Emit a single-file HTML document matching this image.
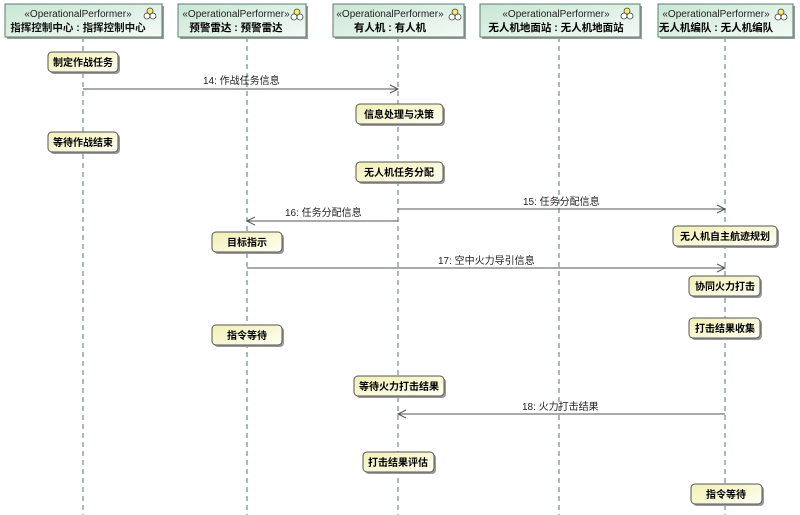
<!DOCTYPE html>
<html><head><meta charset="utf-8"><style>
html,body{margin:0;padding:0;background:#fff;width:800px;height:515px;overflow:hidden}
text{font-family:"Liberation Sans","Noto Sans CJK SC",sans-serif}
</style></head><body>
<svg width="800" height="515" viewBox="0 0 800 515" xmlns="http://www.w3.org/2000/svg">
<defs>
<linearGradient id="hg" x1="0" y1="0" x2="1" y2="1"><stop offset="0" stop-color="#c9e6d3"/><stop offset="1" stop-color="#f4faf6"/></linearGradient>
<linearGradient id="ag" x1="0" y1="0" x2="1" y2="1"><stop offset="0" stop-color="#f2efb4"/><stop offset="1" stop-color="#fffff4"/></linearGradient>
<g id="ico"><circle cx="0" cy="-3" r="3" fill="#f3ec6a" stroke="#444" stroke-width="0.8"/><circle cx="-3" cy="2" r="3" fill="#fff" stroke="#444" stroke-width="0.8"/><circle cx="3" cy="2" r="3" fill="#fff" stroke="#444" stroke-width="0.8"/></g>
</defs>
<g stroke="#4f7a6c" stroke-width="1" stroke-dasharray="5,4">
<line x1="83" y1="37" x2="83" y2="515"/><line x1="247" y1="37" x2="247" y2="515"/><line x1="398" y1="37" x2="398" y2="515"/><line x1="559" y1="37" x2="559" y2="515"/><line x1="725" y1="37" x2="725" y2="515"/>
</g>
<g font-size="10" text-anchor="middle">
<rect x="7" y="6" width="157" height="33" fill="#9a9a9a"/><rect x="5" y="4" width="157" height="33" fill="url(#hg)" stroke="#5c7e6e"/>
<text x="78" y="17" fill="#222">«OperationalPerformer»</text><text x="78" y="31" font-weight="bold" font-size="10.5" fill="#111">指挥控制中心 : 指挥控制中心</text><use href="#ico" x="150" y="14"/>
<rect x="180" y="6" width="128" height="33" fill="#9a9a9a"/><rect x="178" y="4" width="128" height="33" fill="url(#hg)" stroke="#5c7e6e"/>
<text x="236" y="17" fill="#222">«OperationalPerformer»</text><text x="236" y="31" font-weight="bold" font-size="10.5">预警雷达 : 预警雷达</text><use href="#ico" x="297" y="15"/>
<rect x="335" y="6" width="131" height="33" fill="#9a9a9a"/><rect x="333" y="4" width="131" height="33" fill="url(#hg)" stroke="#5c7e6e"/>
<text x="390" y="17" fill="#222">«OperationalPerformer»</text><text x="390" y="31" font-weight="bold" font-size="10.5">有人机 : 有人机</text><use href="#ico" x="455" y="15"/>
<rect x="482" y="6" width="160" height="33" fill="#9a9a9a"/><rect x="480" y="4" width="160" height="33" fill="url(#hg)" stroke="#5c7e6e"/>
<text x="556" y="17" fill="#222">«OperationalPerformer»</text><text x="556" y="31" font-weight="bold" font-size="10.5">无人机地面站 : 无人机地面站</text><use href="#ico" x="627" y="14"/>
<rect x="660" y="6" width="135" height="33" fill="#9a9a9a"/><rect x="658" y="4" width="135" height="33" fill="url(#hg)" stroke="#5c7e6e"/>
<text x="716" y="17" fill="#222">«OperationalPerformer»</text><text x="716" y="31" font-weight="bold" font-size="10.5">无人机编队 : 无人机编队</text><use href="#ico" x="781" y="15"/>
</g>
<g font-size="10" font-weight="bold" text-anchor="middle">
<g><rect x="50" y="54" width="70" height="20" rx="4" fill="#999"/><rect x="48" y="52" width="70" height="20" rx="4" fill="url(#ag)" stroke="#555"/><text x="83" y="66">制定作战任务</text></g>
<g><rect x="358" y="106" width="87" height="20" rx="4" fill="#999"/><rect x="356" y="104" width="87" height="20" rx="4" fill="url(#ag)" stroke="#555"/><text x="399" y="118">信息处理与决策</text></g>
<g><rect x="50" y="134" width="70" height="20" rx="4" fill="#999"/><rect x="48" y="132" width="70" height="20" rx="4" fill="url(#ag)" stroke="#555"/><text x="83" y="146">等待作战结束</text></g>
<g><rect x="358" y="164" width="87" height="20" rx="4" fill="#999"/><rect x="356" y="162" width="87" height="20" rx="4" fill="url(#ag)" stroke="#555"/><text x="399" y="176">无人机任务分配</text></g>
<g><rect x="214" y="234" width="70" height="20" rx="4" fill="#999"/><rect x="212" y="232" width="70" height="20" rx="4" fill="url(#ag)" stroke="#555"/><text x="247" y="246">目标指示</text></g>
<g><rect x="675" y="228" width="104" height="20" rx="4" fill="#999"/><rect x="673" y="226" width="104" height="20" rx="4" fill="url(#ag)" stroke="#555"/><text x="725" y="240">无人机自主航迹规划</text></g>
<g><rect x="691" y="278" width="71" height="20" rx="4" fill="#999"/><rect x="689" y="276" width="71" height="20" rx="4" fill="url(#ag)" stroke="#555"/><text x="725" y="290">协同火力打击</text></g>
<g><rect x="691" y="320" width="71" height="20" rx="4" fill="#999"/><rect x="689" y="318" width="71" height="20" rx="4" fill="url(#ag)" stroke="#555"/><text x="725" y="332">打击结果收集</text></g>
<g><rect x="214" y="327" width="70" height="20" rx="4" fill="#999"/><rect x="212" y="325" width="70" height="20" rx="4" fill="url(#ag)" stroke="#555"/><text x="247" y="339">指令等待</text></g>
<g><rect x="356" y="378" width="90" height="20" rx="4" fill="#999"/><rect x="354" y="376" width="90" height="20" rx="4" fill="url(#ag)" stroke="#555"/><text x="399" y="390">等待火力打击结果</text></g>
<g><rect x="365" y="454" width="71" height="20" rx="4" fill="#999"/><rect x="363" y="452" width="71" height="20" rx="4" fill="url(#ag)" stroke="#555"/><text x="398" y="466">打击结果评估</text></g>
<g><rect x="693" y="486" width="71" height="20" rx="4" fill="#999"/><rect x="691" y="484" width="71" height="20" rx="4" fill="url(#ag)" stroke="#555"/><text x="726" y="498">指令等待</text></g>
</g>
<g stroke="#555" stroke-width="1" fill="none">
<line x1="83" y1="89" x2="398" y2="89"/><polyline points="390,85 398,89 390,93"/>
<line x1="398" y1="209" x2="725" y2="209"/><polyline points="717,205 725,209 717,213"/>
<line x1="398" y1="221" x2="247" y2="221"/><polyline points="255,217 247,221 255,225"/>
<line x1="247" y1="268" x2="725" y2="268"/><polyline points="717,264 725,268 717,272"/>
<line x1="725" y1="414" x2="398" y2="414"/><polyline points="406,410 398,414 406,418"/>
</g>
<g font-size="10" fill="#222">
<text x="203" y="84">14: 作战任务信息</text>
<text x="523" y="205">15: 任务分配信息</text>
<text x="285" y="216">16: 任务分配信息</text>
<text x="438" y="264">17: 空中火力导引信息</text>
<text x="522" y="410">18: 火力打击结果</text>
</g>
</svg>
</body></html>
